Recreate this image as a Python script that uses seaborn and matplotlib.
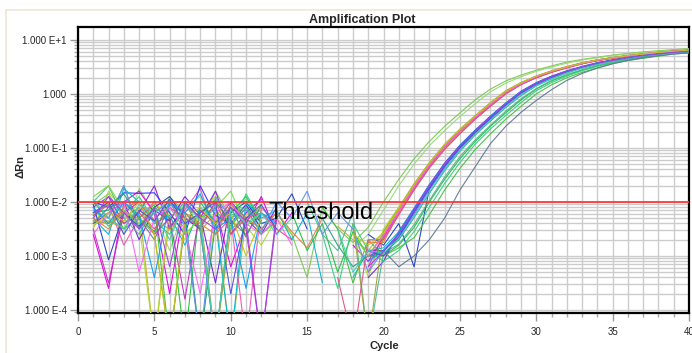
import sys
import numpy as np
import pandas as pd
import matplotlib
matplotlib.use("Agg")
import matplotlib.pyplot as plt
import seaborn as sns
from matplotlib.lines import Line2D
from matplotlib.ticker import LogLocator, NullFormatter

nan = float("nan")

# ---------------- data (log10 of delta Rn, cycles 1..40) ----------------
cycles = list(range(1, 41))

well_01 = [-2.05, -1.85, -2.3, -2.1, -2.6, -1.9, -2.2, -2.45, -1.8, -2.3, -2.05, -2.5, -2.2, -2.6, -3.4, -2.1, -2.5,
           -2.75, -2.47, -2.0, -1.58, -1.2, -0.88, -0.6, -0.35, -0.11, 0.09, 0.24, 0.35, 0.44, 0.52, 0.59, 0.64, 0.68, 0.72, 0.75, 0.78, 0.8, 0.82, 0.84]
well_02 = [-2.3, -2.0, -2.6, -1.75, -2.2, -2.9, -2.1, -1.9, -2.4, -2.15, -1.95, -2.35, nan, nan, nan, nan, nan,
           -2.85, -2.6, -2.15, -1.7, -1.3, -0.96, -0.68, -0.42, -0.18, 0.04, 0.2, 0.32, 0.42, 0.5, 0.57, 0.63, 0.67, 0.71, 0.74, 0.77, 0.79, 0.81, 0.83]
well_03 = [-2.37, -2.37, -2.15, -2.5, -2.0, -2.3, -2.7, -2.2, -1.9, -2.5, -2.25, -2.05, nan, nan, nan, nan, nan, nan, -3.0,
           -2.6, -2.15, -1.7, -1.3, -0.96, -0.68, -0.42, -0.18, 0.04, 0.2, 0.32, 0.42, 0.5, 0.57, 0.63, 0.67, 0.71, 0.74, 0.77, 0.79, 0.81]
well_04 = [-2.6, -3.6, -2.0, -1.8, -2.2, -3.7, -2.0, -2.3, -2.1, -3.2, -2.4, -1.9, -2.6, -2.2, nan, nan, nan, -2.8, -3.1,
           -2.65, -2.2, -1.75, -1.34, -0.99, -0.71, -0.44, -0.2, 0.02, 0.19, 0.31, 0.41, 0.49, 0.56, 0.62, 0.67, 0.71, 0.74, 0.77, 0.79, 0.81]
well_05 = [-2.35, -2.35, -2.5, -2.1, -4.6, -2.3, -2.0, -2.55, -2.2, -4.6, -2.3, -2.15, nan, nan, nan, nan, -2.45, -2.7, -2.9,
           -2.55, -2.1, -1.66, -1.27, -0.93, -0.65, -0.4, -0.16, 0.06, 0.21, 0.33, 0.43, 0.51, 0.58, 0.63, 0.68, 0.71, 0.75, 0.77, 0.8, 0.82]
well_06 = [-2.2, -2.05, -2.8, -2.3, -2.0, -2.45, -2.15, -1.75, -2.6, -2.3, -4.6, -2.1, -2.4, nan, nan, nan, nan, nan, -3.3,
           -2.67, -2.22, -1.76, -1.36, -1.01, -0.72, -0.46, -0.22, 0.01, 0.18, 0.3, 0.41, 0.49, 0.56, 0.62, 0.66, 0.7, 0.74, 0.76, 0.79, 0.81]
well_07 = [-2.1, -1.9, -2.4, -2.2, -1.7, -2.5, -2.05, -2.3, -1.8, -2.6, -2.2, -1.95, nan, nan, nan, nan, nan, nan, -2.9,
           -2.9, -2.65, -2.18, -1.74, -1.33, -0.99, -0.7, -0.44, -0.2, 0.02, 0.18, 0.31, 0.41, 0.49, 0.56, 0.62, 0.66, 0.7, 0.74, 0.76, 0.79]
well_08 = [-2.5, -1.8, -2.2, -2.4, -4.6, -2.1, -2.35, -4.6, -2.25, -2.0, -2.45, -2.8, -2.3, -2.6, nan, nan, nan, -2.5, -3.4,
           -2.5, -2.1, -1.72, -1.31, -0.97, -0.69, -0.42, -0.19, 0.03, 0.2, 0.32, 0.42, 0.5, 0.57, 0.63, 0.67, 0.71, 0.74, 0.77, 0.79, 0.81]
well_09 = [-2.0, -2.3, -1.7, -2.5, -2.1, -2.3, -4.6, -2.0, -2.4, -2.2, -1.9, -2.35, nan, -2.2, -2.9, -2.4, -3.3, -2.55, -3.0,
           -3.0, -2.8, -2.47, -2.0, -1.58, -1.2, -0.88, -0.6, -0.35, -0.11, 0.09, 0.24, 0.35, 0.44, 0.52, 0.58, 0.64, 0.68, 0.72, 0.75, 0.78]
well_10 = [-2.0, -2.1, -1.83, -1.84, -1.83, -2.2, -2.6, -1.7, -2.25, -2.4, -2.05, -2.5, nan, nan, nan, nan, nan, nan, -3.0,
           -2.9, -2.6, -2.15, -1.7, -1.3, -0.96, -0.68, -0.42, -0.18, 0.04, 0.2, 0.32, 0.42, 0.5, 0.57, 0.63, 0.67, 0.71, 0.74, 0.77, 0.79]
well_11 = [-2.4, -2.2, -2.0, -2.7, -2.15, -2.35, -1.9, -2.25, -3.5, -2.0, -2.3, -2.6, -2.1, nan, nan, nan, nan, nan, -3.4,
           -3.1, -2.55, -2.12, -1.68, -1.28, -0.95, -0.67, -0.41, -0.17, 0.05, 0.21, 0.33, 0.43, 0.51, 0.58, 0.63, 0.68, 0.72, 0.75, 0.77, 0.8]
well_12 = [-2.05, -3.07, -2.2, -2.45, -2.1, -1.9, -2.3, -2.5, -4.6, -2.2, -2.0, -2.4, -2.3, -1.85, -2.5, nan, nan, nan, -2.6,
           -2.8, -2.4, -3.2, -1.75, -1.34, -0.99, -0.71, -0.45, -0.2, 0.02, 0.19, 0.31, 0.41, 0.49, 0.56, 0.62, 0.67, 0.71, 0.74, 0.76, 0.79]
well_13 = [-2.3, -2.6, -1.75, -2.0, -2.4, -2.25, -2.8, -2.1, -2.35, -4.6, -2.0, -2.3, -2.15, -2.7, -2.2, -3.5, nan, -3.4, -2.9,
           -2.85, -2.55, -2.12, -1.69, -1.3, -0.96, -0.68, -0.42, -0.18, 0.04, 0.2, 0.32, 0.42, 0.5, 0.57, 0.62, 0.67, 0.71, 0.74, 0.77, 0.79]
well_14 = [-2.2, -2.15, -1.85, -2.3, -2.55, -2.0, -2.2, -4.6, -2.4, -2.1, -2.65, -2.05, nan, nan, nan, -2.3, -2.8, -3.2, -3.0,
           -2.95, -2.7, -2.29, -1.84, -1.42, -1.06, -0.76, -0.5, -0.25, -0.03, 0.15, 0.28, 0.39, 0.48, 0.55, 0.61, 0.66, 0.7, 0.73, 0.76, 0.79]
well_15 = [-2.1, -2.45, -2.2, -1.9, -2.35, -2.6, -2.05, -2.3, -2.15, -2.5, -1.85, -2.35, nan, nan, -2.0, -2.6, -3.6, -2.4, -2.9, -3.1,
           -2.9, -2.55, -2.1, -1.66, -1.27, -0.93, -0.65, -0.4, -0.16, 0.06, 0.21, 0.33, 0.43, 0.51, 0.58, 0.63, 0.68, 0.71, 0.75, 0.77]
well_16 = [-2.25, -2.0, -2.5, -2.3, -2.05, -4.6, -2.4, -2.2, -1.95, -2.45, -2.1, -2.6, -2.35, nan, nan, -2.1, -2.5, -3.5, -2.7, -3.0, -2.85,
           -2.66, -2.24, -1.78, -1.38, -1.03, -0.74, -0.47, -0.23, 0.0, 0.17, 0.3, 0.4, 0.48, 0.56, 0.62, 0.66, 0.7, 0.74, 0.76]
well_17 = [-2.0, -1.7, -2.3, -2.6, -2.1, -2.3, -2.0, -2.5, -4.6, -2.25, -2.1, -2.4, nan, nan, nan, -2.6, -2.9, -2.2, -4.6, -2.95,
           -2.78, -2.42, -1.97, -1.54, -1.16, -0.85, -0.58, -0.32, -0.09, 0.1, 0.25, 0.36, 0.45, 0.53, 0.59, 0.64, 0.68, 0.72, 0.75, 0.78]
well_18 = [-2.4, -2.1, -2.0, -2.3, -2.7, -2.05, -2.2, -2.5, -2.0, -2.35, -2.6, -2.2, nan, nan, nan, nan, nan, nan, nan, -2.9, -3.2, -3.0,
           -2.7, -2.3, -1.78, -1.35, -0.92, -0.6, -0.34, -0.12, 0.08, 0.25, 0.38, 0.48, 0.56, 0.62, 0.67, 0.71, 0.74, 0.76]
well_19 = [-2.5, -3.5, -2.2, -2.0, -2.6, -2.3, -3.8, -2.15, -2.4, -2.0, -2.5, -4.6, -2.3, nan, nan, nan, nan, nan, -3.2,
           -2.62, -2.18, -1.72, -1.32, -0.98, -0.7, -0.43, -0.19, 0.03, 0.19, 0.32, 0.42, 0.5, 0.57, 0.63, 0.67, 0.71, 0.74, 0.77, 0.79, 0.81]
well_20 = [-1.9, -1.7, -2.15, -2.4, -2.2, -1.95, -2.6, -2.3, -2.1, -1.8, -2.45, -2.2, -2.5, nan, nan, nan, nan, -2.6, -3.0,
           -2.58, -2.12, -1.68, -1.28, -0.94, -0.66, -0.41, -0.17, 0.05, 0.21, 0.33, 0.42, 0.5, 0.57, 0.63, 0.67, 0.71, 0.74, 0.77, 0.79, 0.81]
well_21 = [-2.3, -2.5, -2.1, -2.0, -2.35, -2.5, -2.2, -2.4, -2.6, -2.05, -2.3, -2.5, -2.2, -2.55, -2.85, -2.3, nan, nan, -2.75,
           -2.75, -2.2, -1.77, -1.36, -1.01, -0.72, -0.46, -0.22, 0.0, 0.18, 0.3, 0.4, 0.49, 0.56, 0.62, 0.66, 0.7, 0.74, 0.76, 0.79, 0.81]
well_22 = [-2.15, -2.3, -1.7, -2.5, -2.2, -2.0, -2.45, -4.6, -1.9, -2.3, -2.15, -2.55, -2.0, -2.3, -1.8, -2.6, -2.2, -2.5, -3.3, -2.9,
           -2.66, -2.24, -1.78, -1.38, -1.03, -0.74, -0.47, -0.23, 0.0, 0.17, 0.3, 0.4, 0.48, 0.56, 0.62, 0.66, 0.7, 0.74, 0.76, 0.79]
well_23 = [-2.35, -2.4, -2.2, -2.3, -2.6, -4.6, -2.4, -2.2, -4.6, -2.5, -2.3, -2.1, nan, nan, nan, nan, nan, -2.4, -4.6,
           -2.55, -2.12, -1.68, -1.29, -0.95, -0.67, -0.41, -0.17, 0.05, 0.2, 0.33, 0.42, 0.5, 0.57, 0.63, 0.67, 0.71, 0.74, 0.77, 0.79, 0.81]
well_24 = [-2.25, -2.05, -2.4, -2.2, -2.5, -2.1, -2.3, -2.45, -2.0, -2.6, -2.3, -2.2, -2.5, -2.7, nan, nan, -3.4, -4.6, -2.7,
           -2.7, -2.24, -1.78, -1.37, -1.03, -0.74, -0.47, -0.23, 0.0, 0.17, 0.3, 0.4, 0.48, 0.56, 0.62, 0.66, 0.7, 0.74, 0.76, 0.79, 0.81]
well_25 = [-2.1, -2.4, -2.0, -2.25, -3.4, -2.0, -2.2, -1.85, -2.5, -2.3, -3.6, -2.2, -2.4, nan, nan, nan, nan, nan, -3.1,
           -2.9, -2.6, -2.14, -1.7, -1.31, -0.97, -0.69, -0.43, -0.19, 0.03, 0.19, 0.32, 0.42, 0.5, 0.57, 0.62, 0.67, 0.71, 0.74, 0.77, 0.79]
well_26 = [-2.6, -2.2, -2.0, -3.3, -2.3, -2.1, -2.5, -3.7, -2.2, -2.0, -2.4, -2.6, -2.3, -2.8, nan, nan, nan, nan, -3.0,
           -2.62, -2.18, -1.72, -1.32, -0.98, -0.7, -0.43, -0.19, 0.03, 0.19, 0.32, 0.42, 0.5, 0.57, 0.63, 0.67, 0.71, 0.74, 0.77, 0.79, 0.81]
well_27 = [-2.45, -2.2, -2.35, -2.0, -2.6, -4.6, -2.3, -2.1, -2.4, -2.2, -3.0, -2.3, nan, nan, nan, nan, nan, -2.6, -2.8,
           -2.58, -2.12, -1.68, -1.28, -0.94, -0.66, -0.41, -0.17, 0.05, 0.21, 0.33, 0.42, 0.5, 0.57, 0.63, 0.67, 0.71, 0.74, 0.77, 0.79, 0.81]
well_28 = [-2.2, -2.0, -2.6, -2.15, -2.35, -1.95, -2.4, -2.2, -2.0, -3.7, -2.3, -2.05, -2.5, nan, nan, nan, nan, nan, -2.9,
           -3.0, -2.65, -2.2, -1.75, -1.34, -1.0, -0.71, -0.45, -0.2, 0.02, 0.18, 0.31, 0.41, 0.49, 0.56, 0.62, 0.66, 0.7, 0.74, 0.76, 0.79]
well_29 = [-1.95, -2.3, -2.5, -2.05, -2.2, -2.7, -2.0, -2.35, -4.6, -2.15, -2.4, -2.2, -2.6, -2.3, nan, nan, -2.5, -3.3, -2.9,
           -2.95, -2.68, -2.28, -1.83, -1.41, -1.05, -0.75, -0.49, -0.24, -0.02, 0.15, 0.28, 0.39, 0.48, 0.55, 0.61, 0.66, 0.7, 0.73, 0.76, 0.79]
well_30 = [-2.3, -1.9, -2.2, -2.5, -2.1, -3.2, -2.0, -2.3, -2.5, -2.1, -2.35, -4.6, -2.2, nan, nan, nan, nan, nan, -3.2,
           -2.92, -2.58, -2.14, -1.7, -1.31, -0.97, -0.69, -0.43, -0.19, 0.03, 0.19, 0.32, 0.42, 0.5, 0.57, 0.62, 0.67, 0.71, 0.74, 0.77, 0.79]

wells = [well_01, well_02, well_03, well_04, well_05, well_06, well_07, well_08, well_09, well_10,
         well_11, well_12, well_13, well_14, well_15, well_16, well_17, well_18, well_19, well_20,
         well_21, well_22, well_23, well_24, well_25, well_26, well_27, well_28, well_29, well_30]
well_names = ["A1", "A2", "A3", "A4", "A5", "A6", "A7", "A8", "A9", "A10",
              "A11", "A12", "B1", "B2", "B3", "B4", "B5", "B6", "B7", "B8",
              "B9", "B10", "B11", "B12", "C1", "C2", "C3", "C4", "C5", "C6"]
well_colors = ["#78c850", "#98d878", "#d8d000", "#e000e0", "#c0b030", "#f050b0", "#9020e0", "#b0d830",
               "#20c040", "#3030ff", "#7020d0", "#2040c0", "#00b8d0", "#20a080", "#30d080", "#40c040",
               "#50b890", "#607894", "#c030c0", "#70e030", "#e08040", "#6090f0", "#a0a040", "#e05080",
               "#00a0ff", "#ff60ff", "#c8c020", "#5050e0", "#40d0b0", "#a040e0"]

threshold = 0.01
y_ticks = [1e1, 1e0, 1e-1, 1e-2, 1e-3, 1e-4]
y_tick_labels = ["1.000 E+1", "1.000", "1.000 E-1", "1.000 E-2", "1.000 E-3", "1.000 E-4"]
x_ticks = [0, 5, 10, 15, 20, 25, 30, 35, 40]

# ---------------- long-form table (segments split at missing values) ----------------
rows = []
for name, vals in zip(well_names, wells):
    if len(vals) != len(cycles):
        print(f"warning: {name} has {len(vals)} values", file=sys.stderr)
    seg = 0
    gap = True
    for c, v in zip(cycles, vals):
        if v != v:
            gap = True
            continue
        if gap:
            seg += 1
            gap = False
        rows.append((name, f"{name}_{seg}", c, 10.0 ** v))
df = pd.DataFrame(rows, columns=["well", "segment", "cycle", "drn"])

# ---------------- figure ----------------
sns.set_theme(style="white")
plt.rcParams["font.family"] = ["Liberation Sans", "DejaVu Sans"]

W, H = 692, 353
fig = plt.figure(figsize=(W / 100, H / 100), dpi=100)
fig.patch.set_facecolor("white")
ax = fig.add_axes([78 / W, 1 - 313 / H, (689 - 78) / W, (313 - 27) / H])
ax.set_facecolor("white")
ax.set_yscale("log")

sns.lineplot(data=df, x="cycle", y="drn", hue="well", units="segment", estimator=None,
             palette=dict(zip(well_names, well_colors)), legend=False,
             linewidth=0.8, alpha=0.95, sort=True, ax=ax, zorder=3)

ax.axhline(threshold, color="#ff3838", lw=1.3, zorder=5)
ax.text(12.5, 10 ** -2.2, "Threshold", fontsize=17, color="black", va="center", ha="left", zorder=6)

ax.set_xlim(0, 40)
ax.set_ylim(10 ** -4.056, 10 ** 1.24)
ax.set_xticks(x_ticks)
ax.set_xticks(range(0, 41), minor=True)
ax.set_yticks(y_ticks, y_tick_labels)
ax.yaxis.set_minor_locator(LogLocator(base=10, subs=np.arange(2, 10), numticks=30))
ax.yaxis.set_minor_formatter(NullFormatter())

ax.grid(True, which="both", axis="both", color="#cccccc", lw=1.0, zorder=0)
ax.set_axisbelow(True)
ax.tick_params(axis="both", which="major", direction="out", length=6, width=1,
               color="#999999", labelsize=7, pad=2, bottom=True, left=True)
ax.tick_params(axis="both", which="minor", direction="out", length=3, width=1,
               color="#aaaaaa", bottom=True, left=True)
ax.tick_params(axis="x", which="major", pad=4)

for side, sp in ax.spines.items():
    sp.set_visible(True)
    sp.set_color("black")
    sp.set_linewidth(1.6)

ax.set_xlabel("")
ax.set_ylabel("")
fig.text(362 / W, 1 - 20 / H, "Amplification Plot", fontsize=9, fontweight="bold",
         ha="center", va="center")
fig.text(384 / W, 1 - 346 / H, "Cycle", fontsize=8, fontweight="bold", ha="center", va="center")
fig.text(20 / W, 1 - 167 / H, "ΔRn", fontsize=8, fontweight="bold", rotation=90,
         ha="center", va="center")

# light outer panel frame
fig.add_artist(Line2D([6 / W, 1.0], [1 - 10 / H, 1 - 10 / H], color="#ece9d8", lw=1.2,
                      transform=fig.transFigure))
fig.add_artist(Line2D([6 / W, 6 / W], [0.0, 1 - 10 / H], color="#ece9d8", lw=1.2,
                      transform=fig.transFigure))

fig.savefig("out.png", dpi=100, facecolor="white")
